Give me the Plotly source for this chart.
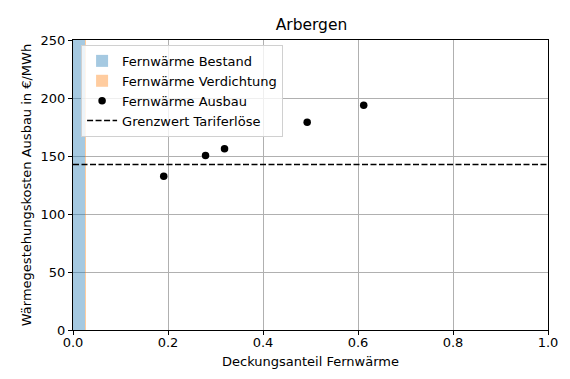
import plotly.graph_objects as go

title = "Arbergen"
bestand_share = 0.025
verdichtung_share = 0.003
y_top = 250
ausbau_x = [0.191, 0.279, 0.319, 0.493, 0.612]
ausbau_y = [132.6, 150.4, 156.2, 179.0, 193.7]
grenzwert = 142.6
x_ticks = [0.0, 0.2, 0.4, 0.6, 0.8, 1.0]
y_ticks = [0, 50, 100, 150, 200, 250]

FONT = "DejaVu Sans"
FS = 13
fig = go.Figure()
fig.add_trace(go.Bar(x=[bestand_share / 2], y=[y_top], width=[bestand_share],
                     marker=dict(color="rgba(31,119,180,0.4)", line=dict(width=0)),
                     name="Fernwärme Bestand"))
fig.add_trace(go.Bar(x=[bestand_share + verdichtung_share / 2], y=[y_top], width=[verdichtung_share],
                     marker=dict(color="rgba(255,127,14,0.4)", line=dict(width=0)),
                     name="Fernwärme Verdichtung"))
fig.add_trace(go.Scatter(x=ausbau_x, y=ausbau_y, mode="markers",
                         marker=dict(color="black", size=7.5),
                         name="Fernwärme Ausbau"))
fig.add_trace(go.Scatter(x=[0, 1], y=[grenzwert, grenzwert], mode="lines",
                         line=dict(color="black", width=1.5, dash="6px,2.5px"),
                         name="Grenzwert Tariferlöse"))

axis_common = dict(showline=True, linecolor="black", linewidth=1, mirror=True,
                   ticks="outside", ticklen=4, tickcolor="black", tickwidth=1,
                   showgrid=True, gridcolor="#b0b0b0", gridwidth=0.8, zeroline=False,
                   tickfont=dict(family=FONT, size=FS, color="black"))
fig.update_layout(
    width=570, height=379,
    margin=dict(l=73, r=20, t=40, b=49),
    plot_bgcolor="white", paper_bgcolor="white",
    barmode="overlay", bargap=0,
    font=dict(family=FONT, size=FS, color="black"),
    title=dict(text=title, x=(73 + 550) / 2 / 570, xanchor="center", y=1 - 24.5 / 379, yanchor="middle",
               font=dict(family=FONT, size=15.5, color="black")),
    xaxis=dict(range=[0, 1], tickvals=x_ticks, ticktext=[f"{v:.1f}" for v in x_ticks],
               ticklabelstandoff=-4,
               title=dict(text="Deckungsanteil Fernwärme", standoff=8,
                          font=dict(family=FONT, size=FS)), **axis_common),
    yaxis=dict(range=[0, 250], tickvals=y_ticks,
               title=dict(text="Wärmegestehungskosten Ausbau in €/MWh", standoff=6,
                          font=dict(family=FONT, size=FS)), **axis_common),
    legend=dict(x=0.017, y=0.983, xanchor="left", yanchor="top",
                bgcolor="rgba(255,255,255,0.8)", bordercolor="#d0d0d0", borderwidth=1,
                font=dict(family=FONT, size=FS), tracegroupgap=0, itemwidth=30),
    showlegend=True,
)
fig.write_html("out.html", config={"displayModeBar": False},
               post_script="document.body.style.margin='0';document.body.style.padding='0';")
